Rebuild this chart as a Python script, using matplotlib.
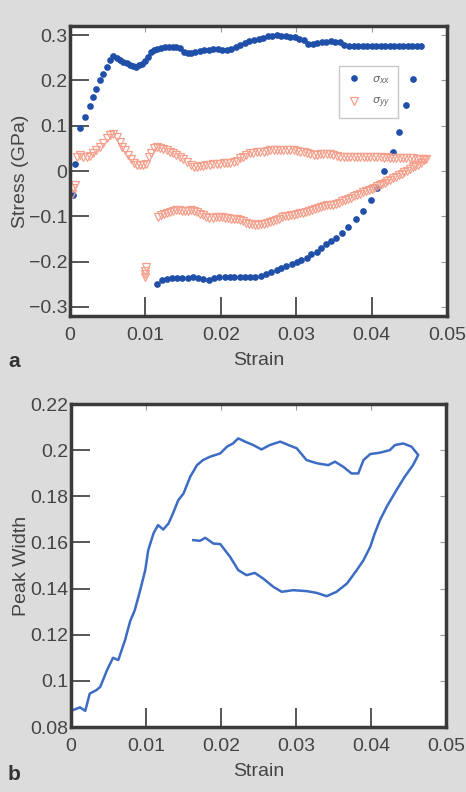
import matplotlib
matplotlib.use("Agg")
import matplotlib.pyplot as plt

plt.rcParams["font.family"] = ["Liberation Sans", "DejaVu Sans"]

# ---------------------------------------------------------
# panel a : stress vs strain
# ---------------------------------------------------------
sxx_load_strain = [0.0004, 0.0007, 0.0013, 0.0020, 0.0027, 0.0031, 0.0035, 0.0040, 0.0044, 0.0049,
                   0.0053, 0.0057, 0.0062, 0.0066, 0.0070, 0.0075, 0.0079, 0.0084, 0.0088, 0.0092,
                   0.0096, 0.0100, 0.0104, 0.0108, 0.0112, 0.0116, 0.0121, 0.0126, 0.0131, 0.0136,
                   0.0141, 0.0146, 0.0151, 0.0156, 0.0161, 0.0166, 0.0172, 0.0178, 0.0184, 0.0190,
                   0.0196, 0.0202, 0.0208, 0.0214, 0.0220, 0.0226, 0.0232, 0.0238, 0.0244, 0.0250,
                   0.0256, 0.0262, 0.0268, 0.0274, 0.0280, 0.0286, 0.0292, 0.0298, 0.0304, 0.0310,
                   0.0316, 0.0322, 0.0328, 0.0334, 0.0340, 0.0346, 0.0352, 0.0358, 0.0364, 0.0370,
                   0.0376, 0.0382, 0.0388, 0.0394, 0.0400, 0.0406, 0.0412, 0.0418, 0.0424, 0.0430,
                   0.0436, 0.0442, 0.0448, 0.0454, 0.0460, 0.0466]
sxx_load_stress = [-0.053, 0.015, 0.096, 0.120, 0.143, 0.164, 0.182, 0.200, 0.215, 0.230,
                   0.245, 0.254, 0.249, 0.244, 0.240, 0.238, 0.234, 0.231, 0.230, 0.233,
                   0.237, 0.242, 0.252, 0.263, 0.268, 0.270, 0.272, 0.273, 0.274, 0.274,
                   0.274, 0.271, 0.263, 0.261, 0.260, 0.262, 0.264, 0.267, 0.268, 0.270,
                   0.269, 0.268, 0.267, 0.269, 0.274, 0.279, 0.283, 0.286, 0.289, 0.291,
                   0.294, 0.297, 0.299, 0.301, 0.299, 0.297, 0.296, 0.295, 0.292, 0.289,
                   0.280, 0.280, 0.283, 0.284, 0.285, 0.286, 0.285, 0.285, 0.277, 0.276,
                   0.275, 0.275, 0.275, 0.276, 0.276, 0.276, 0.276, 0.276, 0.276, 0.276,
                   0.276, 0.276, 0.276, 0.276, 0.275, 0.275]

sxx_unload_strain = [0.0455, 0.0446, 0.0437, 0.0428, 0.0417, 0.0407, 0.0399, 0.0389, 0.0379, 0.0369,
                     0.0361, 0.0353, 0.0346, 0.0340, 0.0333, 0.0327, 0.0320, 0.0314, 0.0307, 0.0301,
                     0.0294, 0.0287, 0.0280, 0.0274, 0.0267, 0.0260, 0.0253, 0.0246, 0.0239, 0.0232,
                     0.0225, 0.0218, 0.0212, 0.0205, 0.0198, 0.0191, 0.0184, 0.0177, 0.0170, 0.0163,
                     0.0156, 0.0149, 0.0142, 0.0135, 0.0128, 0.0122, 0.0115]
sxx_unload_stress = [0.203, 0.145, 0.087, 0.041, 0.000, -0.038, -0.064, -0.089, -0.107, -0.124,
                     -0.136, -0.147, -0.155, -0.162, -0.170, -0.178, -0.184, -0.191, -0.196, -0.200,
                     -0.205, -0.210, -0.215, -0.218, -0.222, -0.227, -0.231, -0.233, -0.235, -0.234,
                     -0.234, -0.233, -0.233, -0.234, -0.235, -0.236, -0.240, -0.238, -0.236, -0.234,
                     -0.236, -0.237, -0.237, -0.236, -0.238, -0.240, -0.249]

syy_load_strain = [0.0002, 0.0004, 0.0007, 0.0009, 0.0013, 0.0017, 0.0022, 0.0026, 0.0031, 0.0035,
                   0.0040, 0.0044, 0.0049, 0.0053, 0.0057, 0.0062, 0.0066, 0.0069, 0.0073, 0.0077,
                   0.0081, 0.0085, 0.0089, 0.0093, 0.0097, 0.0101, 0.0105, 0.0108, 0.0112, 0.0116,
                   0.0120, 0.0124, 0.0128, 0.0132, 0.0137, 0.0141, 0.0146, 0.0150, 0.0155, 0.0160,
                   0.0164, 0.0168, 0.0172, 0.0177, 0.0181, 0.0186, 0.0190, 0.0195, 0.0199, 0.0204,
                   0.0208, 0.0212, 0.0217, 0.0221, 0.0225, 0.0230, 0.0234, 0.0239, 0.0243, 0.0248,
                   0.0252, 0.0257, 0.0261, 0.0265, 0.0270, 0.0274, 0.0279, 0.0283, 0.0288, 0.0292,
                   0.0297, 0.0301, 0.0305, 0.0310, 0.0314, 0.0318, 0.0323, 0.0327, 0.0332, 0.0336,
                   0.0341, 0.0345, 0.0349, 0.0354, 0.0358, 0.0363, 0.0367, 0.0372, 0.0376, 0.0381,
                   0.0385, 0.0390, 0.0394, 0.0398, 0.0403, 0.0407, 0.0412, 0.0416, 0.0420, 0.0425,
                   0.0429, 0.0433, 0.0438, 0.0442, 0.0446, 0.0451, 0.0455, 0.0460, 0.0464, 0.0468,
                   0.0472]
syy_load_stress = [-0.050, -0.038, -0.031, 0.031, 0.035, 0.031, 0.030, 0.034, 0.039, 0.046,
                   0.053, 0.062, 0.072, 0.080, 0.082, 0.076, 0.065, 0.054, 0.046, 0.036,
                   0.026, 0.018, 0.014, 0.013, 0.013, 0.016, 0.030, 0.040, 0.050, 0.053,
                   0.051, 0.049, 0.047, 0.043, 0.039, 0.036, 0.031, 0.026, 0.020, 0.014,
                   0.009, 0.009, 0.010, 0.012, 0.013, 0.014, 0.015, 0.016, 0.016, 0.017,
                   0.017, 0.018, 0.019, 0.023, 0.028, 0.032, 0.035, 0.039, 0.040, 0.041,
                   0.042, 0.043, 0.045, 0.046, 0.046, 0.047, 0.047, 0.047, 0.047, 0.047,
                   0.046, 0.045, 0.043, 0.041, 0.039, 0.037, 0.036, 0.036, 0.037, 0.038,
                   0.038, 0.037, 0.036, 0.034, 0.032, 0.031, 0.031, 0.030, 0.030, 0.030,
                   0.030, 0.031, 0.031, 0.030, 0.030, 0.030, 0.030, 0.029, 0.030, 0.029,
                   0.029, 0.029, 0.028, 0.029, 0.028, 0.028, 0.028, 0.027, 0.027, 0.027,
                   0.026]

syy_unload_strain = [0.0470, 0.0466, 0.0462, 0.0458, 0.0455, 0.0451, 0.0447, 0.0443, 0.0440, 0.0436,
                     0.0433, 0.0429, 0.0425, 0.0421, 0.0418, 0.0414, 0.0411, 0.0407, 0.0403, 0.0400,
                     0.0396, 0.0392, 0.0389, 0.0385, 0.0381, 0.0377, 0.0373, 0.0369, 0.0365, 0.0361,
                     0.0357, 0.0353, 0.0349, 0.0345, 0.0341, 0.0337, 0.0333, 0.0329, 0.0325, 0.0321,
                     0.0317, 0.0313, 0.0309, 0.0305, 0.0301, 0.0297, 0.0293, 0.0289, 0.0285, 0.0281,
                     0.0277, 0.0273, 0.0269, 0.0265, 0.0261, 0.0257, 0.0253, 0.0249, 0.0245, 0.0241,
                     0.0237, 0.0233, 0.0229, 0.0225, 0.0221, 0.0217, 0.0213, 0.0209, 0.0205, 0.0201,
                     0.0197, 0.0193, 0.0189, 0.0185, 0.0181, 0.0177, 0.0173, 0.0169, 0.0165, 0.0161,
                     0.0157, 0.0153, 0.0149, 0.0145, 0.0141, 0.0137, 0.0133, 0.0129, 0.0125, 0.0121,
                     0.0117, 0.0101, 0.0100, 0.0099, 0.0100]
syy_unload_stress = [0.024, 0.018, 0.014, 0.011, 0.008, 0.004, 0.001, -0.003, -0.006, -0.009,
                     -0.013, -0.016, -0.020, -0.023, -0.026, -0.029, -0.031, -0.034, -0.037, -0.040,
                     -0.042, -0.045, -0.047, -0.050, -0.053, -0.056, -0.059, -0.062, -0.065, -0.067,
                     -0.070, -0.072, -0.074, -0.075, -0.076, -0.078, -0.080, -0.082, -0.084, -0.086,
                     -0.088, -0.090, -0.092, -0.093, -0.094, -0.096, -0.098, -0.099, -0.100, -0.102,
                     -0.105, -0.108, -0.111, -0.113, -0.115, -0.116, -0.117, -0.119, -0.119, -0.117,
                     -0.116, -0.114, -0.111, -0.108, -0.106, -0.105, -0.105, -0.104, -0.104, -0.102,
                     -0.101, -0.102, -0.104, -0.104, -0.101, -0.097, -0.094, -0.091, -0.089, -0.087,
                     -0.088, -0.089, -0.088, -0.086, -0.087, -0.089, -0.091, -0.093, -0.095, -0.098,
                     -0.101, -0.211, -0.220, -0.228, -0.234]

# ---------------------------------------------------------
# panel b : peak width vs strain
# ---------------------------------------------------------
pw_strain = [0.0000, 0.0012, 0.0019, 0.0025, 0.0034, 0.0039, 0.0048, 0.0056, 0.0063, 0.0072,
             0.0079, 0.0085, 0.0092, 0.0099, 0.0103, 0.0110, 0.0116, 0.0123, 0.0130, 0.0136,
             0.0143, 0.0150, 0.0159, 0.0168, 0.0176, 0.0185, 0.0199, 0.0208, 0.0216, 0.0223,
             0.0232, 0.0243, 0.0254, 0.0265, 0.0279, 0.0290, 0.0301, 0.0314, 0.0328, 0.0343,
             0.0352, 0.0363, 0.0374, 0.0383, 0.0390, 0.0399, 0.0412, 0.0425, 0.0432, 0.0443,
             0.0454, 0.0463, 0.0456, 0.0445, 0.0434, 0.0421, 0.0412, 0.0405, 0.0399, 0.0390,
             0.0381, 0.0368, 0.0354, 0.0341, 0.0328, 0.0314, 0.0296, 0.0281, 0.0270, 0.0256,
             0.0245, 0.0234, 0.0223, 0.0212, 0.0199, 0.0190, 0.0179, 0.0172, 0.0163]
pw_width = [0.0870, 0.0885, 0.0870, 0.0945, 0.0960, 0.0974, 0.1046, 0.1100, 0.1090, 0.1176,
            0.1260, 0.1306, 0.1390, 0.1480, 0.1567, 0.1639, 0.1675, 0.1656, 0.1682, 0.1726,
            0.1783, 0.1812, 0.1885, 0.1935, 0.1957, 0.1971, 0.1986, 0.2015, 0.2029, 0.2051,
            0.2037, 0.2022, 0.2003, 0.2022, 0.2037, 0.2022, 0.2008, 0.1957, 0.1943, 0.1935,
            0.1950, 0.1928, 0.1899, 0.1899, 0.1957, 0.1983, 0.1989, 0.2000, 0.2022, 0.2029,
            0.2015, 0.1979, 0.1935, 0.1885, 0.1827, 0.1755, 0.1697, 0.1639, 0.1581, 0.1523,
            0.1480, 0.1422, 0.1386, 0.1367, 0.1381, 0.1389, 0.1393, 0.1386, 0.1407, 0.1444,
            0.1468, 0.1458, 0.1480, 0.1538, 0.1593, 0.1595, 0.1620, 0.1607, 0.1610]

BG = "#dcdcdc"
FRAME = "#3a3a3a"
TXT = "#444444"
BLUE = "#1f4fa8"
SALMON = "#f5a08c"
LINE = "#3d6cc4"
FS = 14

W, H = 466, 792
fig = plt.figure(figsize=(W / 100, H / 100), dpi=100, facecolor=BG)

ax1 = fig.add_axes([70 / W, 1 - 316 / H, 377 / W, 290 / H])
ax2 = fig.add_axes([71 / W, 1 - 727 / H, 375 / W, 323 / H])


def style(ax):
    ax.set_facecolor("white")
    for s in ax.spines.values():
        s.set_linewidth(2.5)
        s.set_color(FRAME)
    ax.tick_params(direction="in", length=14, width=1.2, color=FRAME,
                   labelsize=FS, labelcolor=TXT)
    ax.tick_params(axis="x", pad=8)
    ax.tick_params(axis="y", pad=2)
    # small ticks on the opposite sides
    sx = ax.secondary_xaxis("top")
    sy = ax.secondary_yaxis("right")
    sx.set_xticks(ax.get_xticks())
    sy.set_yticks(ax.get_yticks())
    sx.tick_params(direction="in", length=4, width=0.8, color="#999999", labeltop=False)
    sy.tick_params(direction="in", length=4, width=0.8, color="#999999", labelright=False)


# --- a ---
ax1.plot(sxx_load_strain, sxx_load_stress, "o", ms=3.8, color=BLUE, mec=BLUE, label=r"$\sigma_{xx}$")
ax1.plot(sxx_unload_strain, sxx_unload_stress, "o", ms=3.8, color=BLUE, mec=BLUE)
ax1.plot(syy_load_strain, syy_load_stress, "v", ms=5.5, mfc="none", mec=SALMON, mew=0.9,
         label=r"$\sigma_{yy}$")
ax1.plot(syy_unload_strain, syy_unload_stress, "v", ms=5.5, mfc="none", mec=SALMON, mew=0.9)
ax1.set_xlim(0, 0.05)
ax1.set_ylim(-0.32, 0.32)
ax1.set_xticks([0, 0.01, 0.02, 0.03, 0.04, 0.05])
ax1.set_xticklabels(["0", "0.01", "0.02", "0.03", "0.04", "0.05"])
ax1.set_yticks([-0.3, -0.2, -0.1, 0, 0.1, 0.2, 0.3])
ax1.set_yticklabels(["\u22120.3", "\u22120.2", "\u22120.1", "0", "0.1", "0.2", "0.3"])
style(ax1)
ax1.set_xlabel("Strain", fontsize=FS, color=TXT, labelpad=6)
ax1.set_ylabel("Stress (GPa)", fontsize=FS, color=TXT, labelpad=0)
leg = ax1.legend(loc="upper left", bbox_to_anchor=(0.70, 0.88), fontsize=8, frameon=True,
                 fancybox=False, edgecolor="#bbbbbb", labelcolor="#666666",
                 handletextpad=0.9, borderpad=0.7, labelspacing=0.9, handlelength=1.3)
leg.get_frame().set_linewidth(1.0)

# --- b ---
ax2.plot(pw_strain, pw_width, "-", lw=1.8, color=LINE)
ax2.set_xlim(0, 0.05)
ax2.set_ylim(0.08, 0.22)
ax2.set_xticks([0, 0.01, 0.02, 0.03, 0.04, 0.05])
ax2.set_xticklabels(["0", "0.01", "0.02", "0.03", "0.04", "0.05"])
ax2.set_yticks([0.08, 0.1, 0.12, 0.14, 0.16, 0.18, 0.2, 0.22])
ax2.set_yticklabels(["0.08", "0.1", "0.12", "0.14", "0.16", "0.18", "0.2", "0.22"])
style(ax2)
ax2.set_xlabel("Strain", fontsize=FS, color=TXT, labelpad=6)
ax2.set_ylabel("Peak Width", fontsize=FS, color=TXT, labelpad=0)

fig.text(14 / W, 1 - 361 / H, "a", fontsize=15, fontweight="bold", color="#333333",
         ha="center", va="center")
fig.text(14 / W, 1 - 775 / H, "b", fontsize=15, fontweight="bold", color="#333333",
         ha="center", va="center")

fig.savefig("out.png", dpi=100, facecolor=BG)
